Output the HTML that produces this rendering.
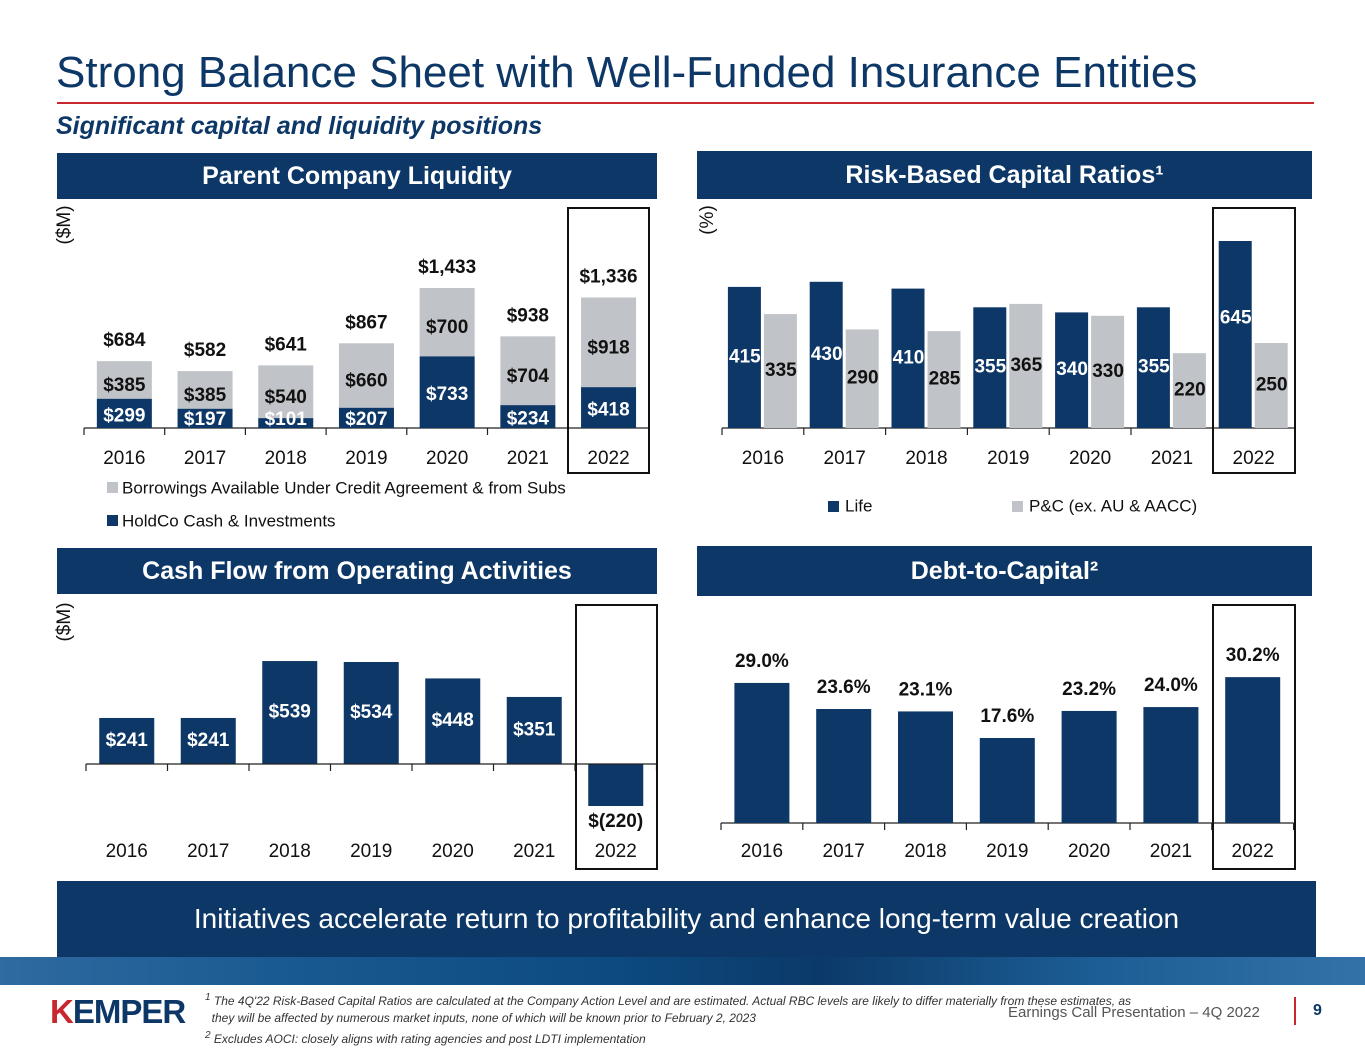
<!DOCTYPE html>
<html><head><meta charset="utf-8">
<style>
body{margin:0;width:1365px;height:1055px;background:#fff;font-family:"Liberation Sans",sans-serif;position:relative;overflow:hidden}
.abs{position:absolute}
.hdr{position:absolute;background:#0c3766;color:#fff;font-weight:bold;font-size:25px;text-align:center;display:flex;align-items:center;justify-content:center}
svg text{font-family:"Liberation Sans",sans-serif}
</style></head><body>
<div class="abs" style="left:56px;top:48px;font-size:44px;color:#0c3766">Strong Balance Sheet with Well-Funded Insurance Entities</div>
<div class="abs" style="left:57px;top:102px;width:1257px;height:2px;background:#c8272e"></div>
<div class="abs" style="left:56px;top:112px;font-size:25px;font-weight:bold;font-style:italic;color:#0c3766">Significant capital and liquidity positions</div>

<div class="hdr" style="left:57px;top:153px;width:600px;height:46px">Parent Company Liquidity</div>
<div class="hdr" style="left:697px;top:151px;width:615px;height:48px">Risk-Based Capital Ratios¹</div>
<div class="hdr" style="left:57px;top:548px;width:600px;height:46px">Cash Flow from Operating Activities</div>
<div class="hdr" style="left:697px;top:546px;width:615px;height:50px">Debt-to-Capital²</div>

<svg class="abs" style="left:0;top:0" width="1365" height="1055" id="charts"></svg>

<div class="abs" style="left:57px;top:881px;width:1259px;height:76px;background:#0c3766;color:#fff;font-size:28px;display:flex;align-items:center;justify-content:center">Initiatives accelerate return to profitability and enhance long-term value creation</div>
<div class="abs" style="left:0;top:957px;width:1365px;height:28px;background:linear-gradient(90deg,#2f6aa0 0%,#1a5a92 20%,#0c4a80 45%,#0b3a68 60%,#1c5d95 80%,#3272a8 100%)"></div>
<div class="abs" style="left:50px;top:993px;font-size:33px;font-weight:bold;color:#0c3766;letter-spacing:-1px"><span style="color:#c8272e">K</span>EMPER</div>
<div class="abs" style="left:205px;top:989px;font-size:12px;font-style:italic;color:#333;line-height:17px;width:1080px"><sup>1</sup> The 4Q'22 Risk-Based Capital Ratios are calculated at the Company Action Level and are estimated. Actual RBC levels are likely to differ materially from these estimates, as<br>&nbsp;&nbsp;they will be affected by numerous market inputs, none of which will be known prior to February 2, 2023<br><sup>2</sup> Excludes AOCI: closely aligns with rating agencies and post LDTI implementation</div>
<div class="abs" style="left:1008px;top:1004px;font-size:15px;color:#555">Earnings Call Presentation – 4Q 2022</div>
<div class="abs" style="left:1294px;top:997px;width:2px;height:28px;background:#c8272e"></div>
<div class="abs" style="left:1313px;top:1002px;font-size:16px;font-weight:bold;color:#0c3766">9</div>

<script>
const years=["2016","2017","2018","2019","2020","2021","2022"];
const liqCash=[299,197,101,207,733,234,418];
const liqBorrow=[385,385,540,660,700,704,918];
const liqTotalLabels=["$684","$582","$641","$867","$1,433","$938","$1,336"];
const rbcLife=[415,430,410,355,340,355,645];
const rbcPC=[335,290,285,365,330,220,250];
const cashFlow=[241,241,539,534,448,351,-220];
const debtCap=[29.0,23.6,23.1,17.6,23.2,24.0,30.2];

const NS="http://www.w3.org/2000/svg";
const svg=document.getElementById('charts');
const NAVY="#0c3766",GRAY="#c0c3c7";
function el(tag,attrs,name,txt){const e=document.createElementNS(NS,tag);for(const k in attrs)e.setAttribute(k,attrs[k]);


if(txt!==undefined)e.textContent=txt;svg.appendChild(e);return e;}
function txt(x,y,s,name,o={}){return el('text',{x:x,y:y,'text-anchor':o.anchor||'middle','font-size':o.size||19,'font-weight':o.bold?'bold':'normal',fill:o.fill||'#111','dominant-baseline':'middle'},name,s);}
function axis(x0,x1,y,n,name){el('line',{x1:x0,y1:y,x2:x1,y2:y,stroke:'#222','stroke-width':1.2},name);
for(let i=0;i<=n;i++){const x=x0+(x1-x0)*i/n;el('line',{x1:x,y1:y,x2:x,y2:y+7,stroke:'#222','stroke-width':1.2},name+'-tick');}}
function fmt(v){return v<0?'$('+(-v)+')':'$'+v;}

// Chart 1 liquidity
{const x0=84,w=80.7,base=428,k=140/1433,bw=55;
const cx=i=>x0+w*(i+0.5),y=v=>base-v*k;
axis(x0,x0+w*7,base,7,'liquidity-x-axis');
years.forEach((yr,i)=>{const c=cx(i);const top1=y(liqCash[i]);const tot=liqCash[i]+liqBorrow[i];
el('rect',{x:c-bw/2,y:y(tot),width:bw,height:top1-y(tot),fill:GRAY},'bar-borrow-'+yr);
el('rect',{x:c-bw/2,y:top1,width:bw,height:base-top1,fill:NAVY},'bar-cash-'+yr);
txt(c,Math.min((top1+base)/2+3,base-8),fmt(liqCash[i]),'label-cash-'+yr,{bold:1,fill:'#fff'});
txt(c,(y(tot)+top1)/2+6,fmt(liqBorrow[i]),'label-borrow-'+yr,{bold:1});
txt(c,y(tot)-20,liqTotalLabels[i],'label-total-'+yr,{bold:1});
txt(c,base+31,yr,'x-label-'+yr);});
el('rect',{x:568,y:208,width:81,height:265,fill:'none',stroke:'#111','stroke-width':2},'highlight-2022');
el('rect',{x:107,y:482,width:11,height:11,fill:GRAY},'legend-swatch-borrow');
txt(122,489,'Borrowings Available Under Credit Agreement & from Subs','legend-borrow',{anchor:'start',size:17});
el('rect',{x:107,y:515,width:11,height:11,fill:NAVY},'legend-swatch-cash');
txt(122,522,'HoldCo Cash & Investments','legend-cash',{anchor:'start',size:17});
const t=txt(65,225,'($M)','y-axis-title',{size:19});t.setAttribute('transform','rotate(-90 65 225)');}

// Chart 2 RBC
{const x0=722,w=81.8,base=428,k=0.34,maxH=187;
const cx=i=>x0+w*(i+0.5),h=v=>Math.min(v*k,maxH);
axis(x0,x0+w*7,base,7,'rbc-x-axis');
years.forEach((yr,i)=>{const c=cx(i);
const hl=h(rbcLife[i]),hp=h(rbcPC[i]);
el('rect',{x:c-35,y:base-hl,width:33,height:hl,fill:NAVY},'bar-life-'+yr);
el('rect',{x:c+1,y:base-hp,width:33,height:hp,fill:GRAY},'bar-pc-'+yr);
txt(c-18,base-hl/2+(i==6?-16:0),rbcLife[i],'label-life-'+yr,{bold:1,fill:'#fff'});
txt(c+18,base-hp/2,rbcPC[i],'label-pc-'+yr,{bold:1});
txt(c,base+31,yr,'x-label-rbc-'+yr);});
el('rect',{x:1213,y:208,width:82,height:265,fill:'none',stroke:'#111','stroke-width':2},'highlight-rbc-2022');
el('rect',{x:828,y:501,width:11,height:11,fill:NAVY},'legend-swatch-life');
txt(845,507,'Life','legend-life',{anchor:'start',size:17});
el('rect',{x:1012,y:501,width:11,height:11,fill:GRAY},'legend-swatch-pc');
txt(1029,507,'P&C (ex. AU & AACC)','legend-pc',{anchor:'start',size:17});
const t=txt(708,220,'(%)','rbc-y-axis-title',{size:19});t.setAttribute('transform','rotate(-90 708 220)');}

// Chart 3 cash flow
{const x0=86,w=81.5,base=764,k=0.191,bw=55;
const cx=i=>x0+w*(i+0.5);
years.forEach((yr,i)=>{const c=cx(i),v=cashFlow[i],hh=Math.abs(v)*k;
el('rect',{x:c-bw/2,y:v>=0?base-hh:base,width:bw,height:hh,fill:NAVY},'bar-cashflow-'+yr);
if(v>=0)txt(c,base-hh/2,fmt(v),'label-cashflow-'+yr,{bold:1,fill:'#fff'});
else txt(c,base+hh+16,fmt(v),'label-cashflow-'+yr,{bold:1});
txt(c,852,yr,'x-label-cf-'+yr);});
axis(x0,x0+w*7,base,7,'cashflow-x-axis');
el('rect',{x:576,y:605,width:81,height:264,fill:'none',stroke:'#111','stroke-width':2},'highlight-cf-2022');
const t=txt(65,622,'($M)','cf-y-axis-title',{size:19});t.setAttribute('transform','rotate(-90 65 622)');}

// Chart 4 debt to capital
{const x0=721,w=81.8,base=823,k=4.83,bw=55;
const cx=i=>x0+w*(i+0.5);
axis(x0,x0+w*7,base,7,'debt-x-axis');
years.forEach((yr,i)=>{const c=cx(i),hh=debtCap[i]*k;
el('rect',{x:c-bw/2,y:base-hh,width:bw,height:hh,fill:NAVY},'bar-debt-'+yr);
txt(c,base-hh-21,debtCap[i].toFixed(1)+'%','label-debt-'+yr,{bold:1});
txt(c,852,yr,'x-label-debt-'+yr);});
el('rect',{x:1213,y:605,width:82,height:264,fill:'none',stroke:'#111','stroke-width':2},'highlight-debt-2022');}
</script>
</body></html>
